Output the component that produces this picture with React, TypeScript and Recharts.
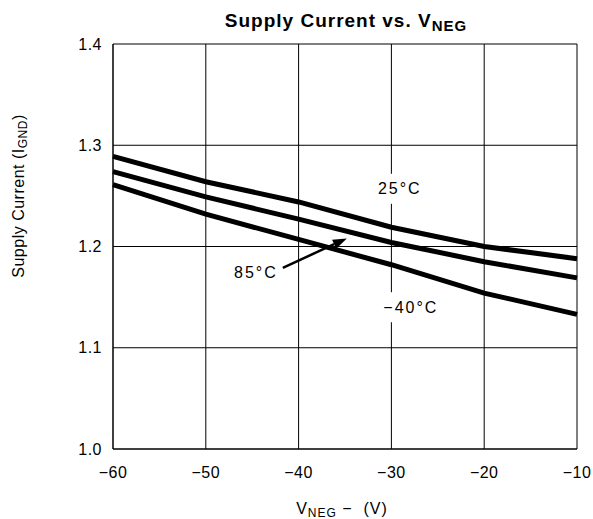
import {
  CartesianGrid,
  Line,
  LineChart,
  ReferenceDot,
  ReferenceLine,
  XAxis,
  YAxis,
} from 'recharts';

// V_NEG sweep (V)
const vneg = [-60, -50, -40, -30, -20, -10];
// supply current per temperature
const i25 = [1.289, 1.264, 1.244, 1.219, 1.2, 1.188];
const i85 = [1.274, 1.249, 1.227, 1.204, 1.185, 1.169];
const iMinus40 = [1.261, 1.232, 1.207, 1.182, 1.154, 1.133];

const xTicks = [-60, -50, -40, -30, -20, -10];
const yTicks = [1.0, 1.1, 1.2, 1.3, 1.4];

// annotation anchors in data units
const tempLabels = [
  { text: '25°C', x: -29.1, y: 1.257, box: true },
  { text: '85°C', x: -44.6, y: 1.174, box: false },
  { text: '−40°C', x: -27.9, y: 1.14, box: true },
];
const arrowFrom = { x: -41.7, y: 1.179 };
const arrowTo = { x: -34.8, y: 1.208 };

const data = vneg.map((v, i) => ({
  v,
  t25: i25[i],
  t85: i85[i],
  tm40: iMinus40[i],
}));

const font = 'Arial, "Liberation Sans", Helvetica, sans-serif';

const fmtX = (v: number) => String(v).replace('-', '−');

const TempLabel = ({ cx, cy, text, box }: any) => (
  <g>
    {box && <rect x={cx - 26} y={cy - 15} width={52} height={30} fill="#fff" />}
    <text
      x={cx}
      y={cy}
      textAnchor="middle"
      dominantBaseline="central"
      fontFamily={font}
      fontSize={16}
      letterSpacing={2}
      fill="#000"
    >
      {text}
    </text>
  </g>
);

const Arrow = ({ x1, y1, x2, y2 }: any) => {
  const a = Math.atan2(y2 - y1, x2 - x1);
  const len = 14;
  const w = 5;
  const bx = x2 - len * Math.cos(a);
  const by = y2 - len * Math.sin(a);
  const px = -Math.sin(a) * w;
  const py = Math.cos(a) * w;
  return (
    <g>
      <line x1={x1} y1={y1} x2={bx} y2={by} stroke="#000" strokeWidth={2.5} />
      <polygon
        points={`${x2},${y2} ${bx + px},${by + py} ${bx - px},${by - py}`}
        fill="#000"
      />
    </g>
  );
};

export default function App() {
  return (
    <div style={{ position: 'absolute', left: 0, top: 0, width: 593, height: 519, background: '#fff' }}>
      <LineChart
        width={593}
        height={519}
        data={data}
        margin={{ top: 44, right: 16, bottom: 40, left: 53 }}
      >
        <CartesianGrid stroke="#000" strokeWidth={1} />
        <XAxis
          dataKey="v"
          type="number"
          domain={[-60, -10]}
          ticks={xTicks}
          tickFormatter={fmtX}
          axisLine={{ stroke: '#000' }}
          tickLine={false}
          tickSize={6}
          tickMargin={12}
          tick={{ fill: '#000', fontSize: 16, fontFamily: font, letterSpacing: 0.5 }}
          height={30}
        />
        <YAxis
          type="number"
          domain={[1.0, 1.4]}
          ticks={yTicks}
          tickFormatter={(v: number) => v.toFixed(1)}
          axisLine={{ stroke: '#000' }}
          tickLine={false}
          tickSize={6}
          tickMargin={5}
          tick={{ fill: '#000', fontSize: 16, fontFamily: font, letterSpacing: 0.5 }}
          width={60}
        />
        <Line dataKey="t25" stroke="#000" strokeWidth={5} dot={false} isAnimationActive={false} />
        <Line dataKey="t85" stroke="#000" strokeWidth={5} dot={false} isAnimationActive={false} />
        <Line dataKey="tm40" stroke="#000" strokeWidth={5} dot={false} isAnimationActive={false} />
        <ReferenceLine
          segment={[arrowFrom, arrowTo]}
          stroke="#000"
          shape={(p: any) => <Arrow {...p} />}
        />
        {tempLabels.map((l) => (
          <ReferenceDot
            key={l.text}
            x={l.x}
            y={l.y}
            r={0}
            shape={(p: any) => <TempLabel {...p} text={l.text} box={l.box} />}
          />
        ))}
      </LineChart>
      <svg
        width={593}
        height={519}
        style={{ position: 'absolute', left: 0, top: 0, pointerEvents: 'none' }}
      >
        <text
          x={346}
          y={27}
          textAnchor="middle"
          fontFamily={font}
          fontSize={19}
          fontWeight="bold"
          letterSpacing={1}
          fill="#000"
        >
          Supply Current vs. V
          <tspan fontSize={15} dy={4}>NEG</tspan>
        </text>
        <text
          x={342}
          y={514}
          textAnchor="middle"
          fontFamily={font}
          fontSize={16}
          letterSpacing={1}
          fill="#000"
        >
          V<tspan fontSize={12} dy={3}>NEG</tspan>
          <tspan dy={-3}>{'\u00a0−\u00a0\u00a0(V)'}</tspan>
        </text>
        <text
          transform="translate(24,196) rotate(-90)"
          textAnchor="middle"
          fontFamily={font}
          fontSize={16}
          letterSpacing={0.5}
          fill="#000"
        >
          Supply Current (I<tspan fontSize={12} dy={3}>GND</tspan>
          <tspan dy={-3}>)</tspan>
        </text>
      </svg>
    </div>
  );
}
